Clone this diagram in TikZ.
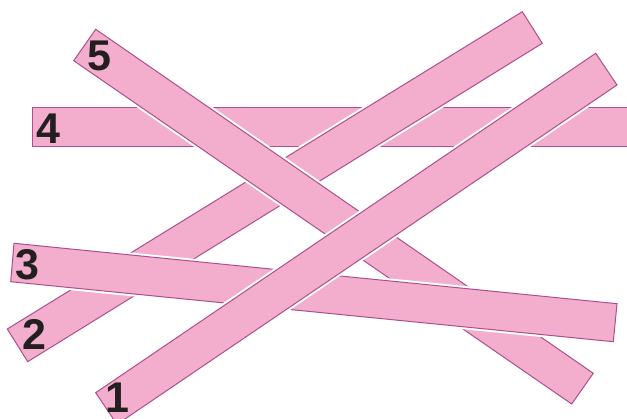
\documentclass[tikz,border=0pt]{standalone}
\usepackage{fontspec}
\setmainfont{Liberation Sans}
\definecolor{stickfill}{HTML}{F3ADCD}
\definecolor{stickline}{HTML}{AE4F8E}
\definecolor{numtext}{HTML}{231F20}
\tikzset{
  halo/.style={draw=white,line width=5pt,line join=miter},
  stick/.style={fill=stickfill,draw=stickline,line width=1pt,line join=miter},
  num/.style={text=numtext,font=\fontsize{43}{43}\selectfont\bfseries,inner sep=0pt,anchor=center}
}
\begin{document}
\begin{tikzpicture}[x=1pt,y=-1pt]
\useasboundingbox (0,0) rectangle (627,419);
\clip (0,0) rectangle (627,419);
% stick 4
\path[halo] (32,108) -- (660,108) -- (660,147) -- (32,147) -- cycle;
\path[stick] (32,108) -- (660,108) -- (660,147) -- (32,147) -- cycle;
% stick 2
\path[halo] (7.3,329) -- (522.3,11.7) -- (542.3,43.3) -- (27.7,361.7) -- cycle;
\path[stick] (7.3,329) -- (522.3,11.7) -- (542.3,43.3) -- (27.7,361.7) -- cycle;
% stick 5
\path[halo] (95.7,29.3) -- (593.3,373.3) -- (571.7,404) -- (73.7,60.7) -- cycle;
\path[stick] (95.7,29.3) -- (593.3,373.3) -- (571.7,404) -- (73.7,60.7) -- cycle;
% stick 3
\path[halo] (14,243.3) -- (617,303.7) -- (613.3,341.7) -- (10.7,281.7) -- cycle;
\path[stick] (14,243.3) -- (617,303.7) -- (613.3,341.7) -- (10.7,281.7) -- cycle;
% stick 1
\path[halo] (95.7,392.7) -- (595.7,53.3) -- (617,85) -- (117,424.4) -- cycle;
\path[stick] (95.7,392.7) -- (595.7,53.3) -- (617,85) -- (117,424.4) -- cycle;
% labels
\node[num] (n5) at (99,56) {5};
\node[num] (n4) at (48.5,129) {4};
\node[num] (n3) at (27,265) {3};
\node[num] (n2) at (34.5,334) {2};
\node[num] (n1) at (117.5,397.5) {1};
\end{tikzpicture}
\end{document}
